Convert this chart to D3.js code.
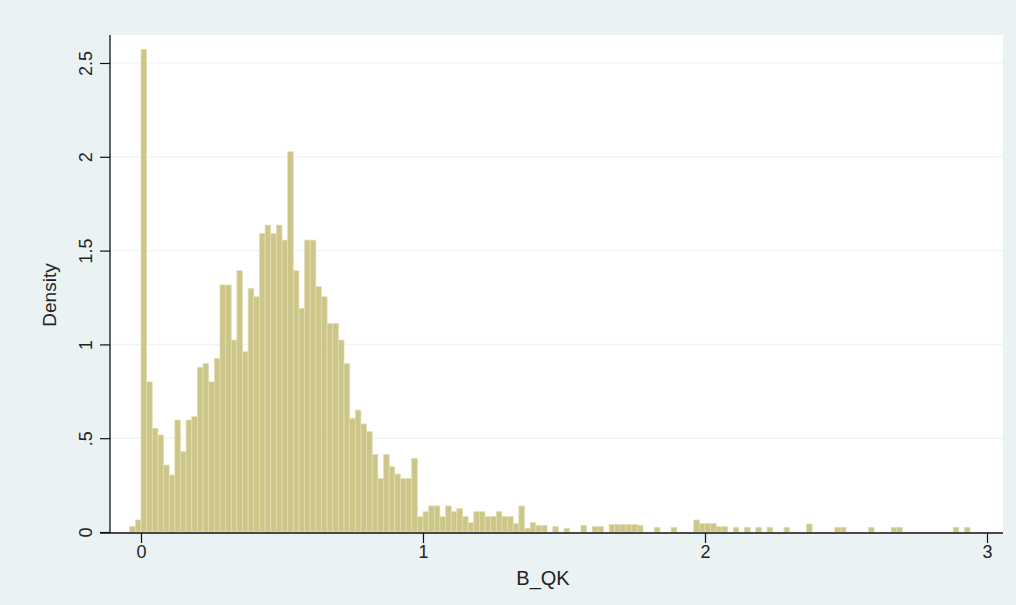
<!DOCTYPE html>
<html>
<head>
<meta charset="utf-8">
<script src="https://cdn.jsdelivr.net/npm/d3@7/dist/d3.min.js"></script>
<style>
  html, body { margin: 0; padding: 0; background: #eaf2f3; }
  svg { display: block; }
  text { font-family: "Liberation Sans", Arial, sans-serif; fill: #222; }
</style>
</head>
<body>
<svg id="chart" width="1016" height="605"></svg>
<script>
// Histogram definition: bins of width 0.02 starting at -0.04
const binStart = -0.04;
const binWidth = 0.02;
// Density of each bin
const densities = [
  0.03, 0.064, 2.573, 0.80, 0.553, 0.517, 0.357, 0.304, 0.597, 0.428,
  0.597, 0.615, 0.878, 0.899, 0.80, 0.926, 1.317, 1.317, 1.023, 1.393,
  0.961, 1.299, 1.254, 1.592, 1.636, 1.592, 1.636, 1.556, 2.027, 1.393,
  1.192, 1.556, 1.556, 1.308, 1.254, 1.112, 1.112, 1.023, 0.899, 0.606,
  0.650, 0.576, 0.535, 0.414, 0.286, 0.414, 0.348, 0.309, 0.286, 0.286,
  0.393, 0.082, 0.108, 0.139, 0.139, 0.082, 0.139, 0.108, 0.126, 0.082,
  0.05, 0.108, 0.108, 0.082, 0.082, 0.108, 0.082, 0.082, 0.046, 0.139,
  0.02, 0.05, 0.035, 0.035, 0, 0.03, 0, 0.02, 0, 0,
  0.035, 0, 0.03, 0.03, 0, 0.04, 0.04, 0.04, 0.04, 0.04,
  0.035, 0, 0, 0.025, 0, 0, 0.025, 0, 0, 0,
  0.064, 0.046, 0.046, 0.046, 0.028, 0.028, 0, 0.025, 0, 0.025,
  0, 0.025, 0, 0.025, 0, 0, 0.025, 0, 0, 0,
  0.043, 0, 0, 0, 0, 0.025, 0.025, 0, 0, 0,
  0, 0.025, 0, 0, 0, 0.025, 0.025, 0, 0, 0,
  0, 0, 0, 0, 0, 0, 0.025, 0, 0.025
];
const xTicks = [0, 1, 2, 3];
const xTickLabels = ["0", "1", "2", "3"];
const yTicks = [0, 0.5, 1, 1.5, 2, 2.5];
const yTickLabels = ["0", ".5", "1", "1.5", "2", "2.5"];
const xTitle = "B_QK";
const yTitle = "Density";

const svg = d3.select("#chart");
const W = 1016, H = 605;

// plot region (white)
const plot = { left: 110, right: 1003, top: 35, bottom: 533 };

const x = d3.scaleLinear().domain([0, 3]).range([141, 987]);
const y = d3.scaleLinear().domain([0, 2.5]).range([532, 63]);

svg.append("rect").attr("x", 0).attr("y", 0).attr("width", W).attr("height", H).attr("fill", "#eaf2f3");
svg.append("rect")
  .attr("x", plot.left).attr("y", plot.top)
  .attr("width", plot.right - plot.left).attr("height", plot.bottom - plot.top)
  .attr("fill", "#ffffff");

// gridlines
svg.append("g").selectAll("line")
  .data(yTicks.filter(d => d > 0))
  .join("line")
  .attr("x1", plot.left).attr("x2", plot.right)
  .attr("y1", d => y(d)).attr("y2", d => y(d))
  .attr("stroke", "#eef3f3").attr("stroke-width", 1.2);

// bars
const bins = densities.map((d, i) => ({ x0: binStart + i * binWidth, x1: binStart + (i + 1) * binWidth, v: d }));
svg.append("g").selectAll("rect")
  .data(bins.filter(b => b.v > 0))
  .join("rect")
  .attr("x", b => x(b.x0))
  .attr("width", b => x(b.x1) - x(b.x0))
  .attr("y", b => y(b.v))
  .attr("height", b => y(0) - y(b.v))
  .attr("fill", "#cdc68a")
  .attr("stroke", "#e4dfb0")
  .attr("stroke-width", 0.7);

// x axis
const xAxis = d3.axisBottom(x).tickValues(xTicks).tickFormat((d, i) => xTickLabels[i]).tickSizeOuter(0).tickSize(10).tickPadding(2);
const gx = svg.append("g").attr("transform", `translate(0,${plot.bottom})`).call(xAxis);
gx.select(".domain").remove();
gx.append("line").attr("x1", 100).attr("x2", plot.right).attr("y1", 0).attr("y2", 0).attr("stroke", "#111").attr("stroke-width", 1.3);
gx.selectAll(".tick line").attr("stroke", "#111").attr("stroke-width", 1.2);
gx.selectAll(".tick text").style("font-size", "18px").attr("fill", "#222");

// y axis
const yAxis = d3.axisLeft(y).tickValues(yTicks).tickFormat((d, i) => yTickLabels[i]).tickSizeOuter(0).tickSize(10);
const gy = svg.append("g").attr("transform", `translate(${plot.left},0)`).call(yAxis);
gy.select(".domain").remove();
gy.append("line").attr("x1", 0).attr("x2", 0).attr("y1", plot.top).attr("y2", plot.bottom).attr("stroke", "#111").attr("stroke-width", 1.3);
gy.selectAll(".tick line").attr("stroke", "#111").attr("stroke-width", 1.2);
gy.selectAll(".tick text")
  .attr("x", null).attr("dy", null)
  .attr("text-anchor", "middle")
  .attr("transform", "translate(-18,0) rotate(-90)")
  .style("font-size", "18px").attr("fill", "#222");

// titles
svg.append("text")
  .attr("x", (x(0) + x(3)) / 2 - 21).attr("y", 585)
  .attr("text-anchor", "middle").style("font-size", "20px")
  .text(xTitle);
svg.append("text")
  .attr("transform", `translate(56,${(plot.top + plot.bottom) / 2 + 11}) rotate(-90)`)
  .attr("text-anchor", "middle").style("font-size", "19px")
  .text(yTitle);
</script>
</body>
</html>
